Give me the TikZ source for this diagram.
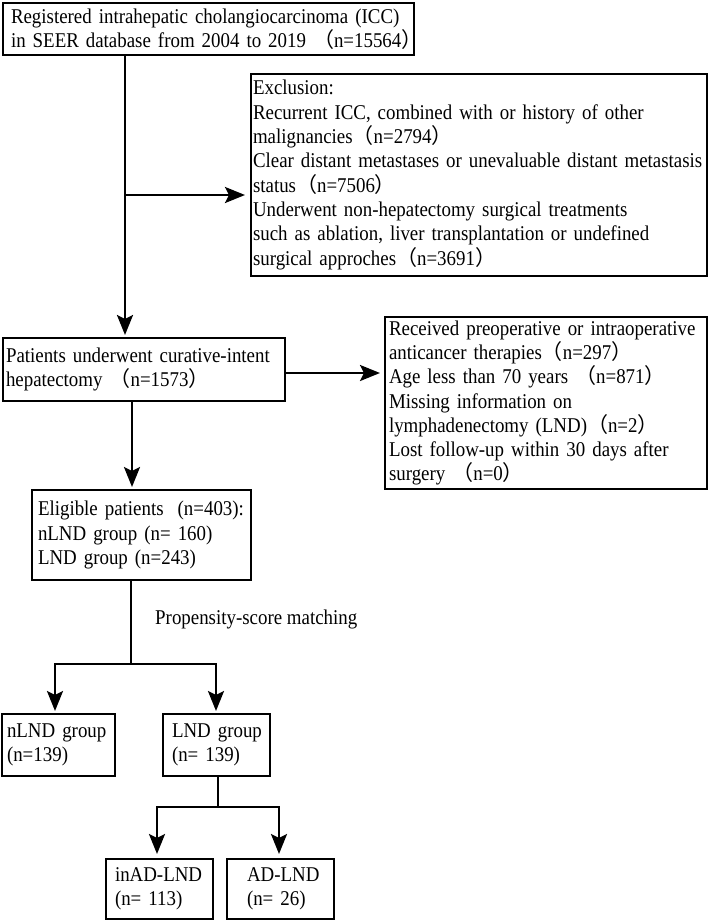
\documentclass[tikz,border=0pt]{standalone}
\usepackage{fontspec}
\setmainfont{Liberation Serif}[FakeStretch=0.9]
\newfontfamily\cjk{Noto Sans CJK SC}
\newcommand{\fwl}{{\cjk （}}
\newcommand{\fwr}{{\cjk ）}}
\usetikzlibrary{arrows.meta}
\tikzset{
  box/.style={draw, line width=1.5pt, anchor=north west, align=left,
    inner ysep=0pt, outer sep=0pt, font=\fontsize{21}{24.3}\selectfont},
  conn/.style={line width=2.6pt, line join=miter},
  arr/.style={conn, -{Stealth[length=20pt,width=16pt,inset=4pt]}},
  lbl/.style={font=\fontsize{21}{24.3}\selectfont, inner sep=0pt}
}
\begin{document}
\begin{tikzpicture}[x=1pt,y=-1pt]
\useasboundingbox (0,0) rectangle (708,921);

\node[box, inner xsep=8pt, text width=395pt, minimum height=52pt] (top) at (3,3)
  {\mbox{Registered intrahepatic cholangiocarcinoma (ICC)}\\
   \mbox{in SEER database from 2004 to 2019 \fwl n=15564\fwr}};

\node[box, inner xsep=2pt, text width=452pt, minimum height=202pt] (exc) at (251,74)
  {\mbox{Exclusion:}\\
   \mbox{Recurrent ICC, combined with or history of other}\\
   \mbox{malignancies\fwl n=2794\fwr}\\
   \mbox{Clear distant metastases or unevaluable distant metastasis}\\
   \mbox{status\fwl n=7506\fwr}\\
   \mbox{Underwent non-hepatectomy surgical treatments}\\
   \mbox{such as ablation, liver transplantation or undefined}\\
   \mbox{surgical approches\fwl n=3691\fwr}};

\node[box, inner xsep=3pt, text width=276pt, minimum height=63pt] (pat) at (3,338)
  {\mbox{Patients underwent curative-intent}\\
   \mbox{hepatectomy \fwl n=1573\fwr}};

\node[box, inner xsep=4pt, text width=314pt, minimum height=172pt] (rec) at (385,317)
  {\mbox{Received preoperative or intraoperative}\\
   \mbox{anticancer therapies\fwl n=297\fwr}\\
   \mbox{Age less than 70 years \fwl n=871\fwr}\\
   \mbox{Missing information on}\\
   \mbox{lymphadenectomy (LND)\fwl n=2\fwr}\\
   \mbox{Lost follow-up within 30 days after}\\
   \mbox{surgery \fwl n=0\fwr}};

\node[box, inner xsep=6pt, text width=207pt, minimum height=90pt] (elig) at (32,490)
  {\mbox{Eligible patients\ \ (n=403):}\\
   \mbox{nLND group (n= 160)}\\
   \mbox{LND group (n=243)}};

\node[lbl, anchor=west] (psm) at (155,619) {Propensity-score matching};

\node[box, inner xsep=5pt, text width=103pt, minimum height=62pt] (nlnd) at (2,714)
  {\mbox{nLND group}\\ \mbox{(n=139)}};
\node[box, inner xsep=9pt, text width=89pt, minimum height=62pt] (lnd) at (163,714)
  {\mbox{LND group}\\ \mbox{(n= 139)}};
\node[box, inner xsep=9pt, text width=89pt, minimum height=60pt] (inad) at (106,859)
  {\mbox{inAD-LND}\\ \mbox{(n= 113)}};
\node[box, inner xsep=20pt, text width=67pt, minimum height=60pt] (ad) at (227,859)
  {\mbox{AD-LND}\\ \mbox{(n= 26)}};

% connectors
\coordinate (c1) at (125,195);
\draw[arr, shorten >=3pt] (top.south -| c1) -- (pat.north -| c1);
\draw[arr, shorten >=6pt] (c1) -- (c1 -| exc.west);

\coordinate (c2) at (0,373);
\draw[arr, shorten >=5pt] (pat.east |- c2) -- (rec.west |- c2);

\coordinate (c3) at (132,0);
\draw[arr, shorten >=3pt] (pat.south -| c3) -- (elig.north -| c3);

\coordinate (s1) at (131,664);
\draw[conn] (elig.south -| s1) -- (s1);
\coordinate (n1) at (55,0);
\coordinate (n2) at (216,0);
\draw[arr, shorten >=3pt] (s1) -| (nlnd.north -| n1);
\draw[arr, shorten >=3pt] (s1) -| (lnd.north -| n2);

\coordinate (s2) at (218,807);
\draw[conn] (lnd.south -| s2) -- (s2);
\coordinate (m1) at (157,0);
\coordinate (m2) at (279,0);
\draw[arr, shorten >=5pt] (s2) -| (inad.north -| m1);
\draw[arr, shorten >=5pt] (s2) -| (ad.north -| m2);
\end{tikzpicture}
\end{document}
